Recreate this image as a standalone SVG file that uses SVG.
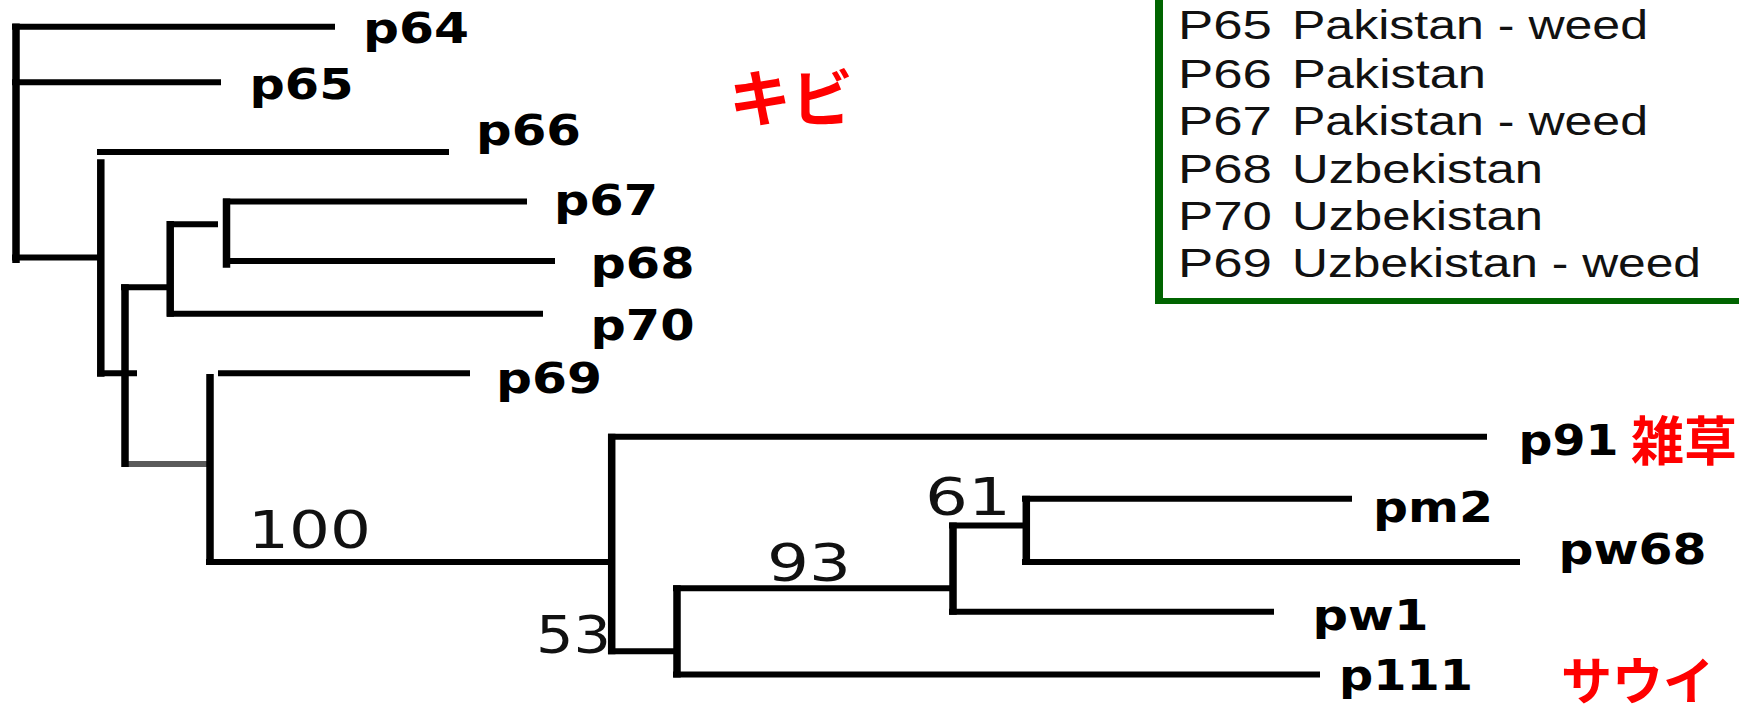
<svg xmlns="http://www.w3.org/2000/svg" width="1739" height="707" viewBox="0 0 1739 707">
<style>
.h{stroke:#000;stroke-width:6;fill:none}
.v{stroke:#000;stroke-width:7.5;fill:none}
.lab{font-family:"DejaVu Sans",Verdana,sans-serif;font-weight:bold;font-size:43px;fill:#000}
.num{font-family:"DejaVu Sans",Verdana,sans-serif;font-size:52px;fill:#111}
.jp{font-family:"Noto Sans CJK JP",sans-serif;font-weight:bold;fill:#ff0000}
.leg{font-family:"Liberation Sans",Arial,sans-serif;font-size:40px;fill:#111}
</style>
<rect width="1739" height="707" fill="#fff"/>
<g id="connectors">
<path class="h" d="M12 26.7H335M12 82.3H221M12 257.5H100M97 152H449M223 201.5H527M223 261H555M167 224.2H218M121 287.2H171M167 313.8H543M97 373.3H137M218 373.3H470M206 562H612M608 436.7H1487M608 651.3H677M673 588.3H953M673 674.5H1320M949 525.6H1030M949 611.7H1274M1022 498.8H1352M1022 562H1520"/>
<path d="M125 464H210" stroke="#5a5a5a" stroke-width="6" fill="none"/>
<path class="v" d="M16 23.5V263M100.8 159.3V376.7M125 284.3V467M170.2 221V316.7M226.5 198.5V267.7M210 374V565M611.7 433.7V654.3M677 585.3V677.5M953 522.6V614.7M1026.3 495.8V565"/>
</g>
<g id="leaf-p64"><text class="lab" x="363" y="42.7" textLength="106" lengthAdjust="spacingAndGlyphs">p64</text></g>
<g id="leaf-p65"><text class="lab" x="249.5" y="99.3" textLength="104" lengthAdjust="spacingAndGlyphs">p65</text></g>
<g id="leaf-p66"><text class="lab" x="476" y="145" textLength="105" lengthAdjust="spacingAndGlyphs">p66</text></g>
<g id="leaf-p67"><text class="lab" x="554" y="215" textLength="104" lengthAdjust="spacingAndGlyphs">p67</text></g>
<g id="leaf-p68"><text class="lab" x="590.5" y="277.7" textLength="104" lengthAdjust="spacingAndGlyphs">p68</text></g>
<g id="leaf-p70"><text class="lab" x="590.5" y="340" textLength="104" lengthAdjust="spacingAndGlyphs">p70</text></g>
<g id="leaf-p69"><text class="lab" x="496" y="392.7" textLength="106" lengthAdjust="spacingAndGlyphs">p69</text></g>
<g id="leaf-p91"><text class="lab" x="1518.5" y="455" textLength="100" lengthAdjust="spacingAndGlyphs">p91</text></g>
<g id="leaf-pm2"><text class="lab" x="1373" y="521.7" textLength="120" lengthAdjust="spacingAndGlyphs">pm2</text></g>
<g id="leaf-pw68"><text class="lab" x="1558.5" y="564" textLength="148" lengthAdjust="spacingAndGlyphs">pw68</text></g>
<g id="leaf-pw1"><text class="lab" x="1312.5" y="630" textLength="116" lengthAdjust="spacingAndGlyphs">pw1</text></g>
<g id="leaf-p111"><text class="lab" x="1339" y="690" textLength="134" lengthAdjust="spacingAndGlyphs">p111</text></g>
<g id="bootstrap-100"><text class="num" x="248" y="548" textLength="123" lengthAdjust="spacingAndGlyphs">100</text></g>
<g id="bootstrap-53"><text class="num" x="536" y="653" textLength="75" lengthAdjust="spacingAndGlyphs">53</text></g>
<g id="bootstrap-93"><text class="num" x="767" y="581" textLength="84" lengthAdjust="spacingAndGlyphs">93</text></g>
<g id="bootstrap-61"><text class="num" x="925" y="515" textLength="86" lengthAdjust="spacingAndGlyphs">61</text></g>
<g id="label-kibi"><text class="jp" x="729" y="122" font-size="62">キビ</text></g>
<g id="label-zasso"><text class="jp" x="1631" y="461" font-size="53">雑草</text></g>
<g id="label-saui"><text class="jp" x="1561" y="700" font-size="51">サウイ</text></g>
<g id="legend">
<path d="M1159 -5V304" stroke="#006400" stroke-width="8" fill="none"/>
<path d="M1155 301H1745" stroke="#006400" stroke-width="6" fill="none"/>
<text class="leg" x="1178" y="39.3" textLength="94" lengthAdjust="spacingAndGlyphs">P65</text>
<text class="leg" x="1292" y="39.3" textLength="356" lengthAdjust="spacingAndGlyphs">Pakistan - weed</text>
<text class="leg" x="1178" y="88.3" textLength="94" lengthAdjust="spacingAndGlyphs">P66</text>
<text class="leg" x="1292" y="88.3" textLength="194" lengthAdjust="spacingAndGlyphs">Pakistan</text>
<text class="leg" x="1178" y="135" textLength="94" lengthAdjust="spacingAndGlyphs">P67</text>
<text class="leg" x="1292" y="135" textLength="356" lengthAdjust="spacingAndGlyphs">Pakistan - weed</text>
<text class="leg" x="1178" y="183.3" textLength="94" lengthAdjust="spacingAndGlyphs">P68</text>
<text class="leg" x="1292" y="183.3" textLength="251" lengthAdjust="spacingAndGlyphs">Uzbekistan</text>
<text class="leg" x="1178" y="230" textLength="94" lengthAdjust="spacingAndGlyphs">P70</text>
<text class="leg" x="1292" y="230" textLength="251" lengthAdjust="spacingAndGlyphs">Uzbekistan</text>
<text class="leg" x="1178" y="276.7" textLength="94" lengthAdjust="spacingAndGlyphs">P69</text>
<text class="leg" x="1292" y="276.7" textLength="409" lengthAdjust="spacingAndGlyphs">Uzbekistan - weed</text>
</g>
</svg>
